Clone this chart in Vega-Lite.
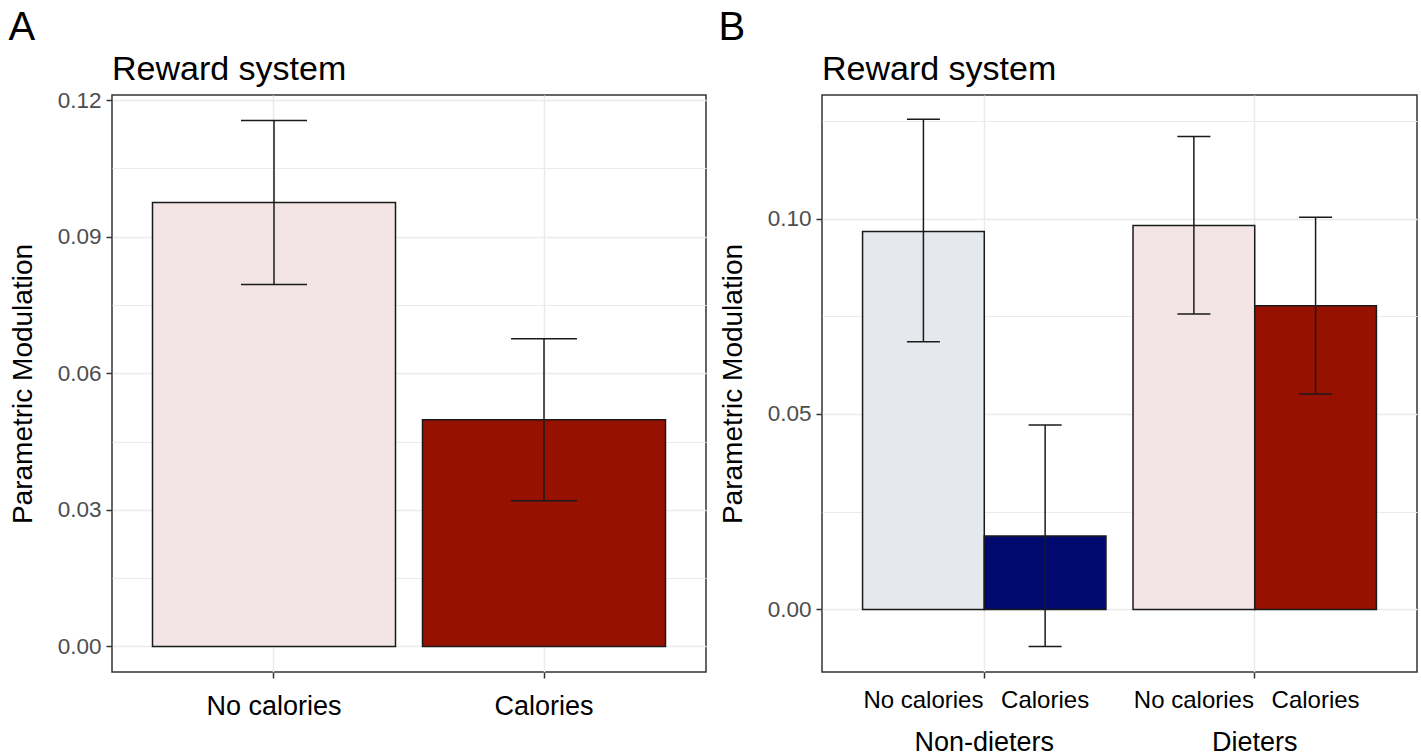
{
  "$schema": "https://vega.github.io/schema/vega-lite/v6.json",
  "padding": {"left": 8, "top": 8, "right": 0, "bottom": 0},
  "background": "white",
  "resolve": {"scale": {"fill": "independent"}},
  "config": {
    "font": "Liberation Sans",
    "view": {"stroke": "#333333", "strokeWidth": 1.5},
    "axis": {
      "domain": false,
      "tickColor": "#333333",
      "tickWidth": 1.5,
      "tickSize": 6,
      "labelColor": "#4d4d4d",
      "labelFont": "Liberation Sans",
      "titleFont": "Liberation Sans",
      "titleFontWeight": "normal",
      "titleColor": "black",
      "gridColor": "#ebebeb"
    },
    "title": {"font": "Liberation Sans", "fontWeight": "normal", "color": "black"}
  },
  "hconcat": [
    {
      "title": {"text": "A", "anchor": "start", "frame": "bounds", "fontSize": 40, "offset": 4},
      "vconcat": [
        {
          "width": 594,
          "height": 577,
          "title": {"text": "Reward system", "anchor": "start", "frame": "group", "fontSize": 34, "offset": 2},
          "data": {"values": [
            {"condition": "No calories", "mean": 0.0975, "lo": 0.0795, "hi": 0.1155},
            {"condition": "Calories", "mean": 0.0498, "lo": 0.0320, "hi": 0.0676}
          ]},
          "encoding": {
            "x": {
              "field": "condition", "type": "nominal", "sort": ["No calories", "Calories"],
              "scale": {"paddingInner": 0.1, "paddingOuter": 0.15},
              "axis": {"title": null, "labelAngle": 0, "labelFontSize": 27, "labelColor": "black", "labelPadding": 15, "grid": true, "gridWidth": 1.5, "bandPosition": 0.5}
            }
          },
          "layer": [
            {
              "mark": {"type": "bar", "stroke": "#1a1a1a", "strokeWidth": 1.5},
              "encoding": {
                "y": {
                  "field": "mean", "type": "quantitative",
                  "scale": {"domain": [-0.0056, 0.1211], "nice": false, "zero": false},
                  "axis": {
                    "title": "Parametric Modulation", "titleFontSize": 28, "titlePadding": 20,
                    "values": [0, 0.015, 0.03, 0.045, 0.06, 0.075, 0.09, 0.105, 0.12],
                    "labelFontSize": 22.5, "labelPadding": 5,
                    "labelExpr": "indexof([0, 0.03, 0.06, 0.09, 0.12], datum.value) >= 0 ? format(datum.value, '.2f') : ''",
                    "tickOpacity": {"condition": {"test": "indexof([0, 0.03, 0.06, 0.09, 0.12], datum.value) < 0", "value": 0}, "value": 1},
                    "gridWidth": {"condition": {"test": "indexof([0, 0.03, 0.06, 0.09, 0.12], datum.value) < 0", "value": 1}, "value": 1.5}
                  }
                },
                "y2": {"datum": 0},
                "fill": {"field": "condition", "type": "nominal", "scale": {"domain": ["No calories", "Calories"], "range": ["#f3e5e5", "#961100"]}, "legend": null}
              }
            },
            {
              "mark": {"type": "rule", "color": "#1a1a1a", "strokeWidth": 1.5},
              "encoding": {"y": {"field": "lo", "type": "quantitative"}, "y2": {"field": "hi"}}
            },
            {
              "mark": {"type": "tick", "color": "#1a1a1a", "thickness": 1.5, "size": 66, "opacity": 1},
              "encoding": {"y": {"field": "lo", "type": "quantitative"}}
            },
            {
              "mark": {"type": "tick", "color": "#1a1a1a", "thickness": 1.5, "size": 66, "opacity": 1},
              "encoding": {"y": {"field": "hi", "type": "quantitative"}}
            }
          ]
        }
      ]
    },
    {
      "title": {"text": "B", "anchor": "start", "frame": "bounds", "fontSize": 40, "offset": 4},
      "vconcat": [
        {
          "width": 595,
          "height": 577,
          "title": {"text": "Reward system", "anchor": "start", "frame": "group", "fontSize": 34, "offset": 8},
          "data": {"values": [
            {"group": "Non-dieters", "condition": "No calories", "key": "Non-dieters No calories", "mean": 0.0967, "lo": 0.0685, "hi": 0.1254},
            {"group": "Non-dieters", "condition": "Calories", "key": "Non-dieters Calories", "mean": 0.0188, "lo": -0.0095, "hi": 0.0472},
            {"group": "Dieters", "condition": "No calories", "key": "Dieters No calories", "mean": 0.0982, "lo": 0.0756, "hi": 0.1210},
            {"group": "Dieters", "condition": "Calories", "key": "Dieters Calories", "mean": 0.0777, "lo": 0.0551, "hi": 0.1003}
          ]},
          "encoding": {
            "x": {
              "field": "group", "type": "nominal", "sort": ["Non-dieters", "Dieters"],
              "scale": {"paddingInner": 0.1, "paddingOuter": 0.15},
              "axis": {"title": null, "labelAngle": 0, "labelFontSize": 27, "labelColor": "black", "labelPadding": 51, "grid": true, "gridWidth": 1.5, "bandPosition": 0.5}
            },
            "xOffset": {"field": "condition", "type": "nominal", "sort": ["No calories", "Calories"], "scale": {"paddingInner": 0, "paddingOuter": 0}}
          },
          "layer": [
            {
              "mark": {"type": "bar", "stroke": "#1a1a1a", "strokeWidth": 1.5},
              "encoding": {
                "y": {
                  "field": "mean", "type": "quantitative",
                  "scale": {"domain": [-0.016, 0.1316], "nice": false, "zero": false},
                  "axis": {
                    "title": "Parametric Modulation", "titleFontSize": 28, "titlePadding": 20,
                    "values": [0, 0.025, 0.05, 0.075, 0.1, 0.125],
                    "labelFontSize": 22.5, "labelPadding": 5,
                    "labelExpr": "indexof([0, 0.05, 0.1], datum.value) >= 0 ? format(datum.value, '.2f') : ''",
                    "tickOpacity": {"condition": {"test": "indexof([0, 0.05, 0.1], datum.value) < 0", "value": 0}, "value": 1},
                    "gridWidth": {"condition": {"test": "indexof([0, 0.05, 0.1], datum.value) < 0", "value": 1}, "value": 1.5}
                  }
                },
                "y2": {"datum": 0},
                "fill": {"field": "key", "type": "nominal", "scale": {"domain": ["Non-dieters No calories", "Non-dieters Calories", "Dieters No calories", "Dieters Calories"], "range": ["#e5e9ee", "#000a6e", "#f3e5e5", "#961100"]}, "legend": null}
              }
            },
            {
              "mark": {"type": "rule", "color": "#1a1a1a", "strokeWidth": 1.5},
              "encoding": {"y": {"field": "lo", "type": "quantitative"}, "y2": {"field": "hi"}}
            },
            {
              "mark": {"type": "tick", "color": "#1a1a1a", "thickness": 1.5, "size": 33, "opacity": 1},
              "encoding": {"y": {"field": "lo", "type": "quantitative"}}
            },
            {
              "mark": {"type": "tick", "color": "#1a1a1a", "thickness": 1.5, "size": 33, "opacity": 1},
              "encoding": {"y": {"field": "hi", "type": "quantitative"}}
            },
            {
              "mark": {"type": "text", "fontSize": 24, "baseline": "alphabetic", "dy": 36, "color": "black"},
              "encoding": {
                "y": {"datum": -0.016, "type": "quantitative"},
                "text": {"field": "condition", "type": "nominal"}
              }
            }
          ]
        }
      ]
    }
  ],
  "spacing": 11
}
